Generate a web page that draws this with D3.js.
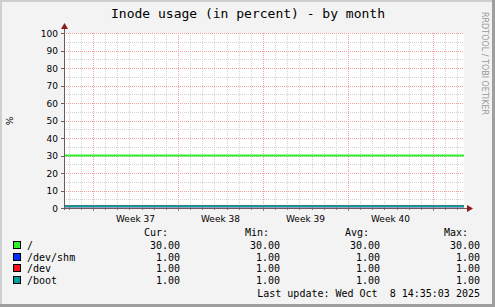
<!DOCTYPE html>
<html><head><meta charset="utf-8">
<script src="https://cdn.jsdelivr.net/npm/d3@7"></script>
<style>html,body{margin:0;padding:0;background:#fff}svg{display:block}</style>
</head><body>
<script>
// ---- data ----
const title = "Inode usage (in percent) - by month";
const seriesNames = ["/", "/dev/shm", "/dev", "/boot"];
const seriesColors = ["#2ef02e", "#0030ff", "#ff1010", "#00a0a0"];
const sampleTimes = ["2025-09-05T14:40:00Z", "2025-10-08T13:20:00Z"];
const rootValues = [30, 30];
const shmValues = [1, 1];
const devValues = [1, 1];
const bootValues = [1, 1];
const curValues = [30.00, 1.00, 1.00, 1.00];
const minValues = [30.00, 1.00, 1.00, 1.00];
const avgValues = [30.00, 1.00, 1.00, 1.00];
const maxValues = [30.00, 1.00, 1.00, 1.00];
const statHeaders = ["Cur:", "Min:", "Avg:", "Max:"];
const yTickValues = [0, 10, 20, 30, 40, 50, 60, 70, 80, 90, 100];
const weekStarts = ["2025-09-08", "2025-09-15", "2025-09-22", "2025-09-29", "2025-10-06"];
const weekLabels = ["Week 37", "Week 38", "Week 39", "Week 40"];
const lastUpdate = "Last update: Wed Oct  8 14:35:03 2025";

// ---- layout ----
const W = 495, H = 307;
const L = 64, R = 464, T = 33, B = 208;
const svg = d3.select("body").append("svg").attr("width", W).attr("height", H);

// background + 3d border
svg.append("rect").attr("width", W).attr("height", H).attr("fill", "#f3f3f3");
svg.append("rect").attr("x", 0).attr("y", 0).attr("width", W).attr("height", 2).attr("fill", "#cfcfcf");
svg.append("rect").attr("x", 0).attr("y", 0).attr("width", 2).attr("height", H).attr("fill", "#cfcfcf");
svg.append("rect").attr("x", W - 3).attr("y", 0).attr("width", 3).attr("height", H).attr("fill", "#9e9e9e");
svg.append("rect").attr("x", 0).attr("y", H - 3).attr("width", W).attr("height", 3).attr("fill", "#9e9e9e");

const parse = d3.utcParse("%Y-%m-%dT%H:%M:%SZ");
const parseDay = d3.utcParse("%Y-%m-%d");
const times = sampleTimes.map(parse);
const x = d3.scaleUtc().domain([times[0], times[1]]).range([L, R]);
const y = d3.scaleLinear().domain([0, 100]).range([B, T]);

// plot background
svg.append("rect").attr("x", L).attr("y", T).attr("width", R - L).attr("height", B - T).attr("fill", "#ffffff");

const grid = svg.append("g").attr("shape-rendering", "crispEdges").attr("stroke-width", 1).attr("stroke-dasharray", "1,1");
// minor vertical (daily)
const days = d3.utcDay.range(d3.utcDay.ceil(times[0]), times[1]);
grid.selectAll(".vmin").data(days).join("line")
  .attr("x1", d => Math.round(x(d)) + 0.5).attr("x2", d => Math.round(x(d)) + 0.5)
  .attr("y1", T).attr("y2", B).attr("stroke", "#d2d2d2");
// minor horizontal (every 5)
const minorY = d3.range(0, 101, 5).filter(v => v % 10 !== 0);
grid.selectAll(".hmin").data(minorY).join("line")
  .attr("x1", L).attr("x2", R)
  .attr("y1", d => Math.round(y(d)) + 0.5).attr("y2", d => Math.round(y(d)) + 0.5)
  .attr("stroke", "#d2d2d2");
// major
const wk = weekStarts.map(parseDay);
grid.selectAll(".vmaj").data(wk).join("line")
  .attr("x1", d => Math.round(x(d)) + 0.5).attr("x2", d => Math.round(x(d)) + 0.5)
  .attr("y1", T).attr("y2", B).attr("stroke", "#f0a0a0");
grid.selectAll(".hmaj").data(yTickValues.slice(1)).join("line")
  .attr("x1", L).attr("x2", R)
  .attr("y1", d => Math.round(y(d)) + 0.5).attr("y2", d => Math.round(y(d)) + 0.5)
  .attr("stroke", "#f0a0a0");

// series lines
const allValues = [rootValues, shmValues, devValues, bootValues];
const line = d3.line().x((d, i) => x(times[i])).y(d => y(d));
allValues.forEach((vals, i) => {
  svg.append("path").datum(vals).attr("d", line)
    .attr("fill", "none").attr("stroke", seriesColors[i]).attr("stroke-width", 2);
});

// axes
const ax = svg.append("g").attr("shape-rendering", "crispEdges");
ax.append("line").attr("x1", L - 2).attr("x2", R + 4).attr("y1", B + 0.5).attr("y2", B + 0.5).attr("stroke", "#6e5a5a");
ax.append("line").attr("x1", L + 0.5).attr("x2", L + 0.5).attr("y1", B + 2).attr("y2", T - 4).attr("stroke", "#6e5a5a");
// y ticks
ax.selectAll(".yt").data(yTickValues).join("line")
  .attr("x1", L - 3).attr("x2", L)
  .attr("y1", d => Math.round(y(d)) + 0.5).attr("y2", d => Math.round(y(d)) + 0.5)
  .attr("stroke", "#6e5a5a");
// x ticks
ax.selectAll(".xtmaj").data(wk).join("line")
  .attr("x1", d => Math.round(x(d)) + 0.5).attr("x2", d => Math.round(x(d)) + 0.5)
  .attr("y1", B + 1).attr("y2", B + 3).attr("stroke", "#e07070");
ax.selectAll(".xtmin").data(days).join("line")
  .attr("x1", d => Math.round(x(d)) + 0.5).attr("x2", d => Math.round(x(d)) + 0.5)
  .attr("y1", B + 1).attr("y2", B + 2).attr("stroke", "#8a8a8a");
// arrows
svg.append("path").attr("d", `M${R + 3},${B - 3} L${R + 9},${B + 0.5} L${R + 3},${B + 4} Z`).attr("fill", "#8b1a1a");
svg.append("path").attr("d", `M${L - 3},${T - 4} L${L + 0.5},${T - 10} L${L + 4},${T - 4} Z`).attr("fill", "#8b1a1a");

const sans = "'DejaVu Sans', sans-serif";
const mono = "'DejaVu Sans Mono', monospace";

// y labels
svg.selectAll(".yl").data(yTickValues).join("text")
  .attr("x", L - 6).attr("y", d => y(d) + 3.5)
  .attr("text-anchor", "end").attr("font-family", sans).attr("font-size", 9)
  .attr("fill", "#000").text(d => d);
// x labels (centered within week)
svg.selectAll(".xl").data(weekLabels).join("text")
  .attr("x", (d, i) => (x(wk[i]) + x(wk[i + 1])) / 2)
  .attr("y", B + 14)
  .attr("text-anchor", "middle").attr("font-family", sans).attr("font-size", 9)
  .attr("fill", "#000").text(d => d);

// title
svg.append("text").attr("x", 248).attr("y", 18).attr("text-anchor", "middle")
  .attr("font-family", mono).attr("font-size", 13).attr("fill", "#000").text(title);
// y axis title
svg.append("text").attr("transform", "translate(13,121) rotate(-90)").attr("text-anchor", "middle")
  .attr("font-family", sans).attr("font-size", 9).attr("fill", "#000").text("%");
// watermark
svg.append("text").attr("transform", "translate(482,12) rotate(90)").attr("text-anchor", "start")
  .attr("font-family", sans).attr("font-size", 8).attr("fill", "#9a9a9a").text("RRDTOOL / TOBI OETIKER");

// legend
const colRight = [180, 280, 380, 480];
const headerRight = [168, 269, 369, 468];
const rowY = [249, 261, 272, 284];
svg.selectAll(".hd").data(statHeaders).join("text")
  .attr("x", (d, i) => headerRight[i]).attr("y", 236).attr("text-anchor", "end")
  .attr("font-family", mono).attr("font-size", 10).attr("fill", "#000").text(d => d);
seriesNames.forEach((name, i) => {
  svg.append("rect").attr("x", 13.5).attr("y", rowY[i] - 7.5).attr("width", 7).attr("height", 7)
    .attr("fill", seriesColors[i]).attr("stroke", "#000").attr("stroke-width", 1).attr("shape-rendering", "crispEdges");
  svg.append("text").attr("x", 27).attr("y", rowY[i]).attr("font-family", mono).attr("font-size", 10)
    .attr("fill", "#000").text(name);
  [curValues, minValues, avgValues, maxValues].forEach((arr, j) => {
    svg.append("text").attr("x", colRight[j]).attr("y", rowY[i]).attr("text-anchor", "end")
      .attr("font-family", mono).attr("font-size", 10).attr("fill", "#000").text(d3.format(".2f")(arr[i]));
  });
});
svg.append("text").attr("x", 480).attr("y", 297).attr("text-anchor", "end")
  .attr("font-family", mono).attr("font-size", 10).attr("fill", "#000")
  .style("white-space", "pre").text(lastUpdate);
</script>
</body></html>
